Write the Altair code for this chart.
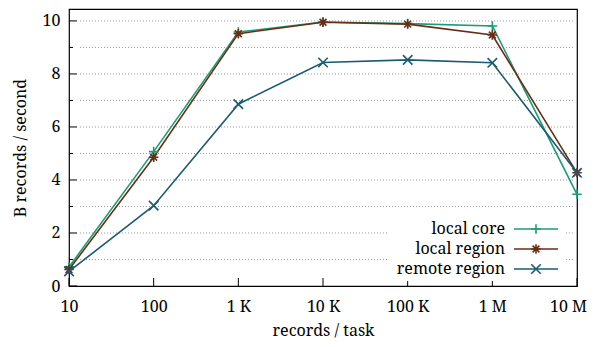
import altair as alt
import pandas as pd

# ---- data ----
x_vals = [10, 100, 1000, 10000, 100000, 1000000, 10000000]
x_labels = ["10", "100", "1 K", "10 K", "100 K", "1 M", "10 M"]
series = ["local core", "local region", "remote region"]
local_core = [0.72, 5.07, 9.58, 9.96, 9.90, 9.81, 3.46]
local_region = [0.62, 4.86, 9.52, 9.95, 9.88, 9.47, 4.27]
remote_region = [0.55, 3.03, 6.86, 8.43, 8.53, 8.42, 4.27]
y_major = [0, 2, 4, 6, 8, 10]
y_minor = [1, 3, 5, 7, 9]
y_grid = [1, 2, 3, 4, 5, 6, 7, 8, 9, 10]

colors = ["#1b9e77", "#6b2c16", "#1d5b70"]
shapes = [
    "M-1,0L1,0M0,-1L0,1",
    "M-1,0L1,0M0,-1L0,1M-0.72,-0.72L0.72,0.72M-0.72,0.72L0.72,-0.72",
    "M-1,-1L1,1M-1,1L1,-1",
]

FONT = "Noto Serif"
FS = 16
W, H = 508, 277
YDOM = [0, 10.45]
XDOM = [10, 10000000]

rows = []
for name, vals in zip(series, [local_core, local_region, remote_region]):
    for xv, yv in zip(x_vals, vals):
        rows.append({"x": xv, "y": yv, "series": name})
df = pd.DataFrame(rows)

label_map = "{" + ",".join(f"'{v}':'{l}'" for v, l in zip(x_vals, x_labels)) + "}"

xscale = alt.Scale(type="log", domain=XDOM, nice=False)
yscale = alt.Scale(domain=YDOM, nice=False, zero=False)
cscale = alt.Scale(domain=series, range=colors)
sscale = alt.Scale(domain=series, range=shapes)

grid = alt.Chart(pd.DataFrame({"g": y_grid})).mark_rule(
    color="#9a9a9a", strokeDash=[1, 2], strokeWidth=1
).encode(
    y=alt.Y("g:Q", scale=yscale, axis=None),
    x=alt.value(11), x2=alt.value(504),
)

lines = alt.Chart(df).mark_line(strokeWidth=1.6).encode(
    x=alt.X("x:Q", scale=xscale,
            axis=alt.Axis(values=x_vals, labelExpr=f"{label_map}[datum.value]",
                          title="records / task", tickSize=0, domain=False,
                          grid=False, labelPadding=12, titlePadding=8,
                          labelOffset={"condition": {"test": "datum.value >= 10000000", "value": -9}, "value": 0},
                          labelFlush=False, labelOverlap=False)),
    y=alt.Y("y:Q", scale=yscale,
            axis=alt.Axis(values=y_major, title="B records / second",
                          tickSize=0, domain=False, grid=False,
                          labelPadding=9, titlePadding=14)),
    color=alt.Color("series:N", scale=cscale, legend=None),
    detail="series:N",
)

points = alt.Chart(df).mark_point(filled=False, size=90, strokeWidth=1.6, opacity=1).encode(
    x=alt.X("x:Q", scale=xscale),
    y=alt.Y("y:Q", scale=yscale, axis=None),
    color=alt.Color("series:N", scale=cscale, legend=None),
    shape=alt.Shape("series:N", scale=sscale, legend=None),
)

xticks = alt.Chart(pd.DataFrame({"x": x_vals})).mark_rule(color="black", strokeWidth=1).encode(
    x=alt.X("x:Q", scale=xscale), y=alt.value(H), y2=alt.value(H - 8),
)
ymaj = alt.Chart(pd.DataFrame({"t": y_major})).mark_rule(color="black", strokeWidth=1).encode(
    y=alt.Y("t:Q", scale=yscale, axis=None), x=alt.value(0), x2=alt.value(8),
)
ymin = alt.Chart(pd.DataFrame({"t": y_minor})).mark_rule(color="black", strokeWidth=1).encode(
    y=alt.Y("t:Q", scale=yscale, axis=None), x=alt.value(0), x2=alt.value(4),
)

leg_df = pd.DataFrame({"series": series})
lscale = alt.Scale(type="point", domain=series, range=[220, 260], padding=0)
leg_bg = alt.Chart(pd.DataFrame({"a": [0]})).mark_rect(fill="white").encode(
    x=alt.value(318), x2=alt.value(496), y=alt.value(207), y2=alt.value(272),
)
leg_line = alt.Chart(leg_df).mark_rule(strokeWidth=1.6).encode(
    y=alt.Y("series:N", scale=lscale, axis=None),
    x=alt.value(445), x2=alt.value(489),
    color=alt.Color("series:N", scale=cscale, legend=None),
)
leg_pt = alt.Chart(leg_df).mark_point(filled=False, size=90, strokeWidth=1.6, opacity=1).encode(
    y=alt.Y("series:N", scale=lscale, axis=None),
    x=alt.value(467),
    color=alt.Color("series:N", scale=cscale, legend=None),
    shape=alt.Shape("series:N", scale=sscale, legend=None),
)
leg_txt = alt.Chart(leg_df).mark_text(align="right", baseline="middle", font=FONT,
                                      fontSize=FS, color="black").encode(
    y=alt.Y("series:N", scale=lscale, axis=None),
    x=alt.value(436),
    text="series:N",
)

chart = alt.layer(
    grid, lines, points, xticks, ymaj, ymin, leg_bg, leg_line, leg_pt, leg_txt
).resolve_scale(y="independent").properties(
    width=W, height=H,
    autosize=alt.AutoSizeParams(type="none"),
    padding={"left": 61, "top": 1, "right": 10, "bottom": 53},
    background="white",
).configure_view(
    stroke="black", strokeWidth=1.2
).configure_axis(
    labelFont=FONT, titleFont=FONT, labelFontSize=FS, titleFontSize=FS,
    labelColor="black", titleColor="black", titleFontWeight="normal",
)

chart.save("out.html", embed_options={"renderer": "svg", "actions": False})
